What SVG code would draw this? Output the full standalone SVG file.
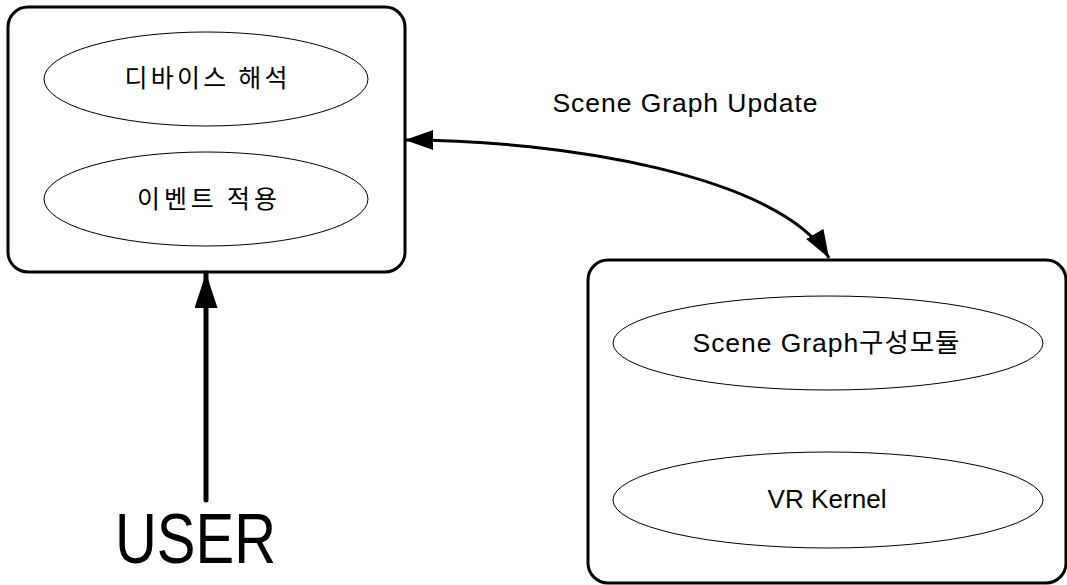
<svg xmlns="http://www.w3.org/2000/svg" width="1067" height="585" viewBox="0 0 1067 585">
<style>
.box{fill:#fff;stroke:#000;stroke-width:3}
.ell{fill:#fff;stroke:#000;stroke-width:1}
.lbl{font-family:"Liberation Sans","Noto Sans CJK KR",sans-serif;font-size:26.5px;fill:#000;text-anchor:middle}
.kr{font-family:"Noto Sans CJK KR","Liberation Sans",sans-serif;font-size:25px;fill:#000;text-anchor:middle}
.conn{fill:none;stroke:#000}
</style>
<defs>
<marker id="arr" markerUnits="userSpaceOnUse" markerWidth="30" markerHeight="22" refX="28" refY="10" orient="auto-start-reverse">
<path d="M0,0 L28,10 L0,20 Z" fill="#000"/>
</marker>
<marker id="arrBig" markerUnits="userSpaceOnUse" markerWidth="37" markerHeight="25" refX="35" refY="11.5" orient="auto">
<path d="M0,0 L35,11.5 L0,23 Z" fill="#000"/>
</marker>
</defs>
<rect width="1067" height="585" fill="#fff"/>
<g id="client">
<rect class="box" x="8" y="7" width="397" height="265" rx="20"/>
<g id="device">
<ellipse class="ell" cx="206" cy="79" rx="162" ry="47"/>
<text class="kr" x="206" y="87" textLength="163" lengthAdjust="spacing">디바이스 해석</text>
</g>
<g id="event">
<ellipse class="ell" cx="206" cy="199" rx="162" ry="47"/>
<text class="kr" x="207" y="208" textLength="140" lengthAdjust="spacing">이벤트 적용</text>
</g>
</g>
<g id="server">
<rect class="box" x="588" y="260" width="478" height="323" rx="20"/>
<g id="scenegraph">
<ellipse class="ell" cx="828" cy="343" rx="215" ry="47"/>
<text class="lbl" x="826" y="352" textLength="267" lengthAdjust="spacing">Scene Graph구성모듈</text>
</g>
<g id="vrkernel">
<ellipse class="ell" cx="828" cy="500" rx="215" ry="48"/>
<text class="lbl" x="827" y="508" textLength="119" lengthAdjust="spacingAndGlyphs">VR Kernel</text>
</g>
</g>
<g id="user">
<text x="195.5" y="563" font-family="'Liberation Sans',sans-serif" font-size="70" text-anchor="middle" textLength="161" lengthAdjust="spacingAndGlyphs">USER</text>
</g>
<g id="connectors">
<path class="conn" stroke-width="3" d="M405,140 C560,140 780,175 829,258" marker-start="url(#arr)" marker-end="url(#arr)"/>
<text class="lbl" x="685" y="112" textLength="265" lengthAdjust="spacing">Scene Graph Update</text>
<path class="conn" stroke-width="5" stroke-linecap="round" d="M206,500 L206,273" marker-end="url(#arrBig)"/>
</g>
</svg>
